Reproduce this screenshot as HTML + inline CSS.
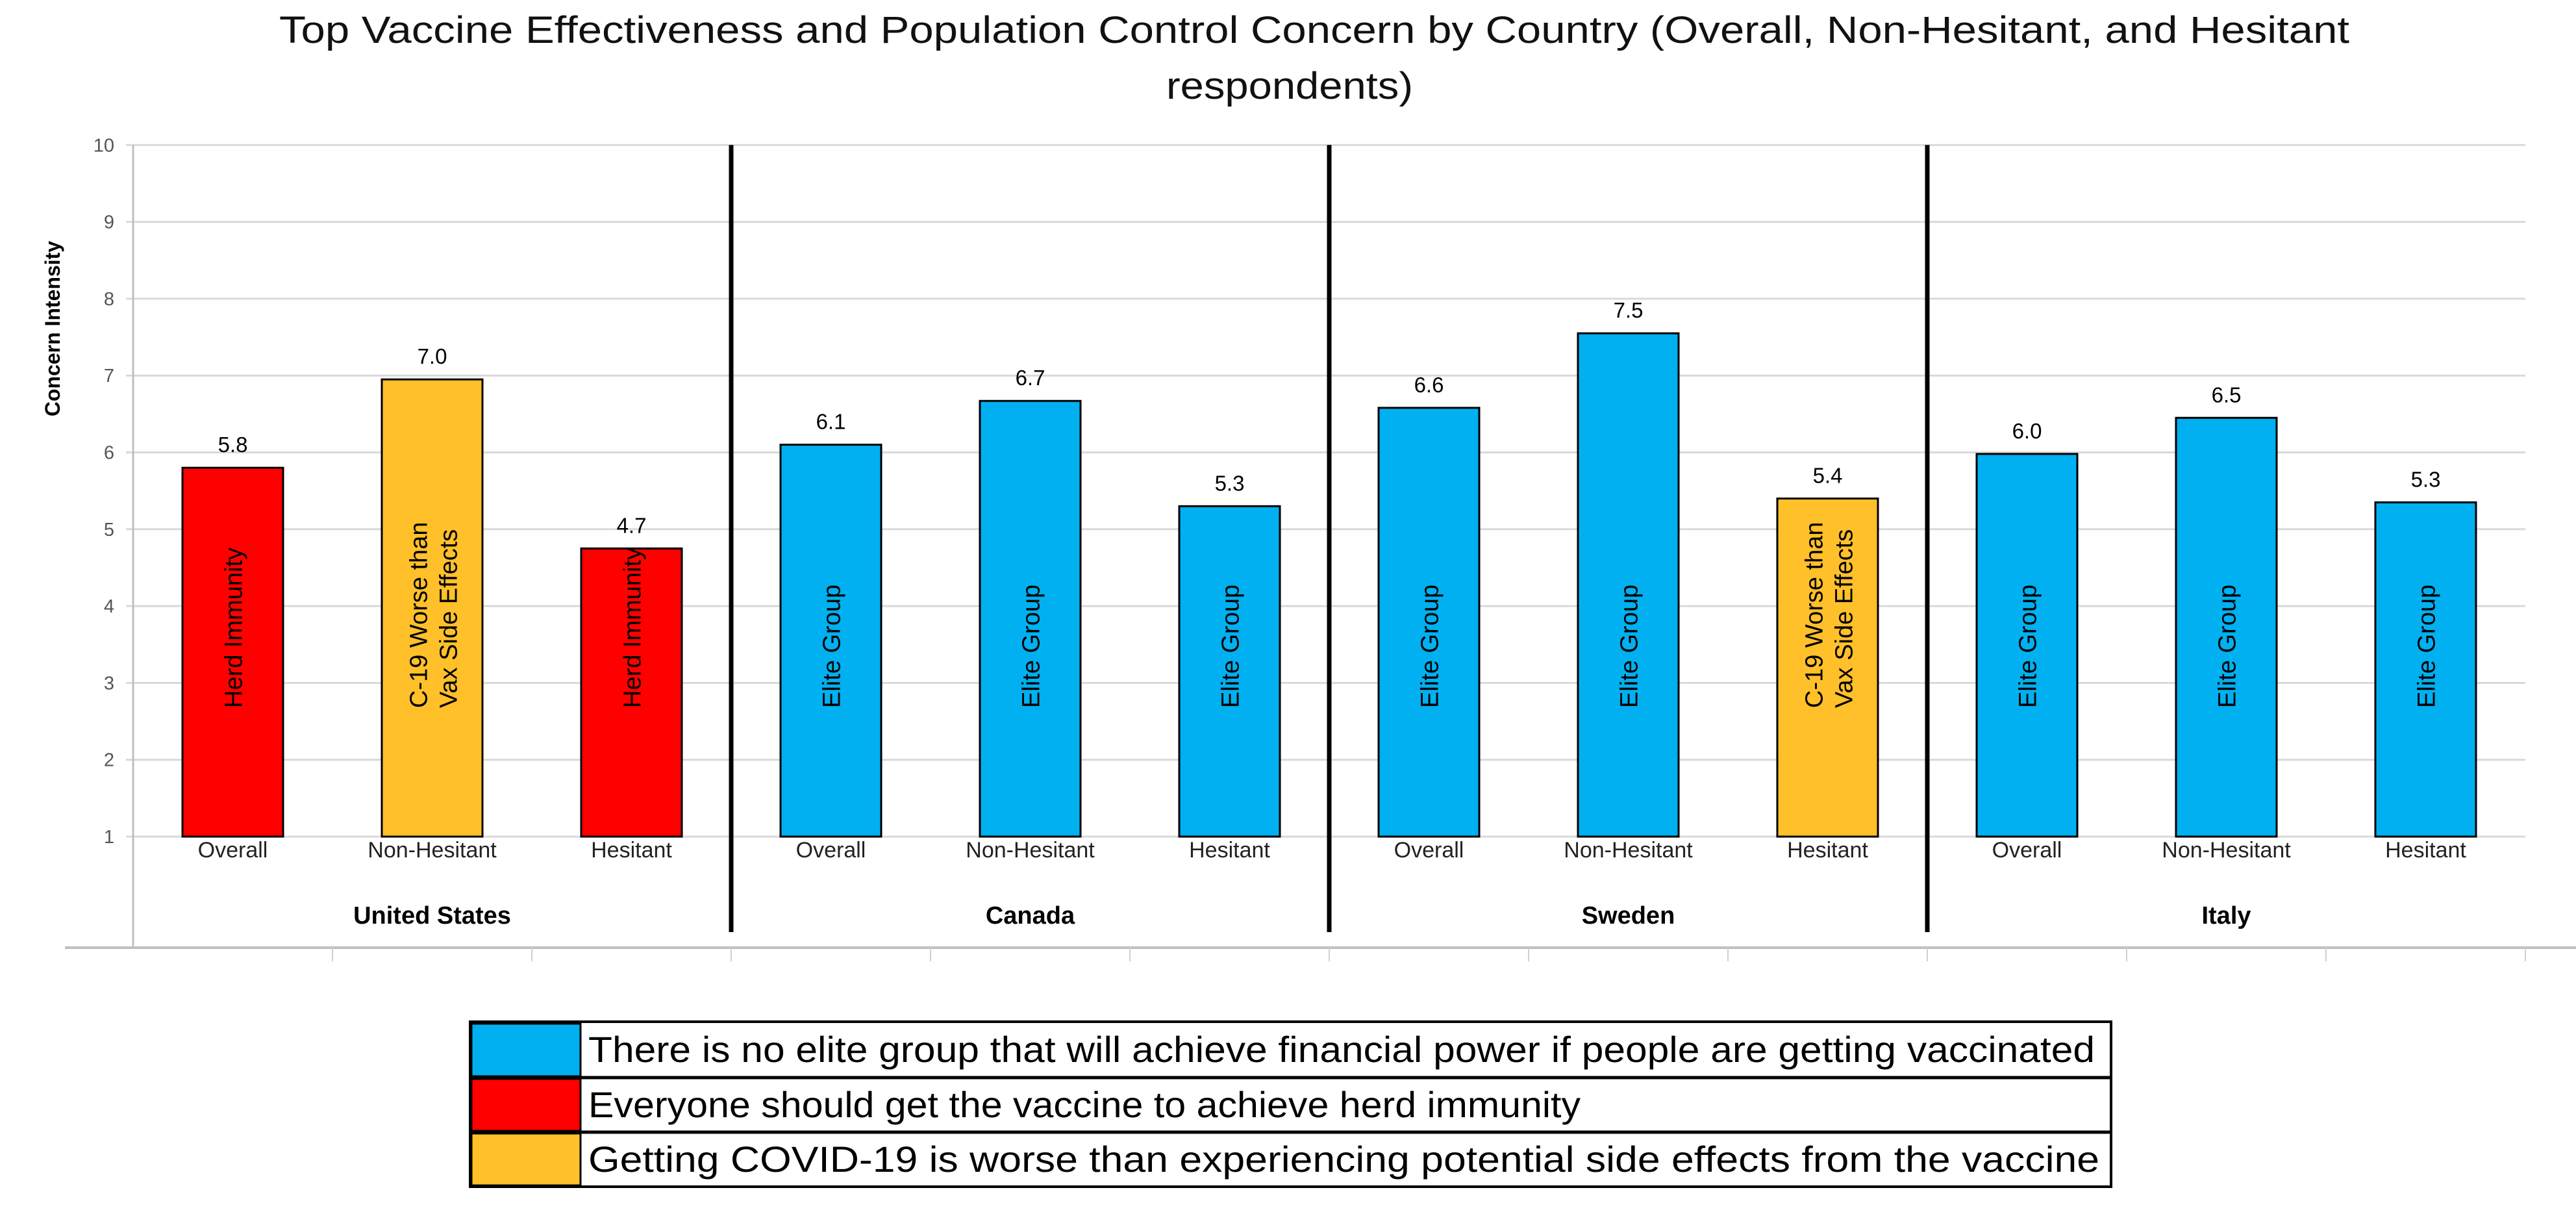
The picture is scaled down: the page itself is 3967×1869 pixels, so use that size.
<!DOCTYPE html>
<html><head><meta charset="utf-8"><style>
html,body{margin:0;padding:0;background:#fff;}
svg{display:block;font-family:"Liberation Sans",sans-serif;}
</style></head><body>
<svg id="chart" width="3967" height="1869" viewBox="0 0 3967 1869" xmlns="http://www.w3.org/2000/svg">
<text x="430" y="66" font-size="58" textLength="3188" lengthAdjust="spacingAndGlyphs" fill="#111">Top Vaccine Effectiveness and Population Control Concern by Country (Overall, Non-Hesitant, and Hesitant</text>
<text x="1796" y="152" font-size="58" textLength="380" lengthAdjust="spacingAndGlyphs" fill="#111">respondents)</text>
<g id="grid"></g>
<g id="bars"></g>
<g id="labels"></g>
<text transform="translate(92,506) rotate(-90)" font-size="32" font-weight="bold" text-anchor="middle">Concern Intensity</text>
<g>
<rect x="724" y="1573" width="2527" height="254" fill="#fff" stroke="#000" stroke-width="4"/>
<line x1="724" y1="1659" x2="3251" y2="1659" stroke="#000" stroke-width="5"/>
<line x1="724" y1="1743" x2="3251" y2="1743" stroke="#000" stroke-width="5"/>
<rect x="726" y="1576" width="168" height="81" fill="#00B0F0" stroke="#000" stroke-width="3"/>
<rect x="726" y="1661" width="168" height="80" fill="#FF0000" stroke="#000" stroke-width="3"/>
<rect x="726" y="1745" width="168" height="80" fill="#FFC02A" stroke="#000" stroke-width="3"/>
<text x="906" y="1635" font-size="56" textLength="2320" lengthAdjust="spacingAndGlyphs">There is no elite group that will achieve financial power if people are getting vaccinated</text>
<text x="906" y="1720" font-size="56" textLength="1528" lengthAdjust="spacingAndGlyphs">Everyone should get the vaccine to achieve herd immunity</text>
<text x="906" y="1804" font-size="56" textLength="2327" lengthAdjust="spacingAndGlyphs">Getting COVID-19 is worse than experiencing potential side effects from the vaccine</text>
</g>
</svg>
<script>
const countries = ["United States","Canada","Sweden","Italy"];
const groups = ["Overall","Non-Hesitant","Hesitant"];
const values = [5.8,6.95,4.75, 6.1,6.67,5.3, 6.58,7.55,5.4, 5.98,6.45,5.35];
const valueLabels = ["5.8","7.0","4.7","6.1","6.7","5.3","6.6","7.5","5.4","6.0","6.5","5.3"];
const barTypes = ["herd","c19","herd","elite","elite","elite","elite","elite","c19","elite","elite","elite"];
const yTicks = [1,2,3,4,5,6,7,8,9,10];

const NS="http://www.w3.org/2000/svg";
const X0=205, GW=921, SLOT=307, BW=155, Y1=1288, UNIT=118.3;
const colors={elite:"#00B0F0",herd:"#FF0000",c19:"#FFC02A"};
const yScale=v=>Y1-(v-1)*UNIT;
const xCenter=i=>X0+Math.floor(i/3)*GW+(i%3)*SLOT+SLOT/2;
function mk(tag,attrs,parent,txt){const e=document.createElementNS(NS,tag);for(const k in attrs)e.setAttribute(k,attrs[k]);if(txt!==undefined)e.textContent=txt;parent.appendChild(e);return e;}
const grid=document.getElementById('grid'),bars=document.getElementById('bars'),lab=document.getElementById('labels');
yTicks.forEach(t=>{
  const y=yScale(t);
  const l=mk('line',{x1:194,x2:X0+4*GW,y1:y,y2:y,stroke:"#d9d9d9","stroke-width":3},grid);
  
  
  const tx=mk('text',{x:176,y:y+10,"font-size":29,"text-anchor":"end",fill:"#555"},grid,String(t));
  
  
});
const ya=mk('line',{x1:X0,x2:X0,y1:yScale(10),y2:1459,stroke:"#bfbfbf","stroke-width":3},grid);


const xa=mk('line',{x1:100,x2:3967,y1:1459,y2:1459,stroke:"#bfbfbf","stroke-width":4},grid);


for(let k=0;k<12;k++){const x=X0+(k+1)*SLOT;
  const tk=mk('line',{x1:x,x2:x,y1:1459,y2:1480,stroke:"#d0d0d0","stroke-width":2},grid);
  
  
}
for(let c=1;c<countries.length;c++){
  const x=X0+c*GW;
  const s=mk('line',{x1:x,x2:x,y1:yScale(10),y2:1435,stroke:"#000","stroke-width":7},grid);
  
  
}
const barText={herd:["Herd Immunity"],elite:["Elite Group"],c19:["C-19 Worse than","Vax Side Effects"]};
values.forEach((v,i)=>{
  const cx=xCenter(i),top=yScale(v);
  const r=mk('rect',{x:cx-BW/2,y:top,width:BW,height:Y1-top,fill:colors[barTypes[i]],stroke:"#000","stroke-width":3},bars);
  
  
  const vl=mk('text',{x:cx,y:top-24,"font-size":33,"text-anchor":"middle"},lab,valueLabels[i]);
  
  
  const lines=barText[barTypes[i]];
  lines.forEach((t,j)=>{
    const off=lines.length==1?14:(j==0?-8:38);
    const bt=mk('text',{transform:`translate(${cx+off},1090) rotate(-90)`,"font-size":38,fill:"#000"},lab,t);
    
    
  });
  const cl=mk('text',{x:cx,y:1320,"font-size":34,"text-anchor":"middle",fill:"#222"},lab,groups[i%3]);
  
  
});
countries.forEach((c,k)=>{
  const t=mk('text',{x:X0+k*GW+GW/2,y:1422,"font-size":38,"font-weight":"bold","text-anchor":"middle"},lab,c);
  
  
});
</script>
</body></html>
